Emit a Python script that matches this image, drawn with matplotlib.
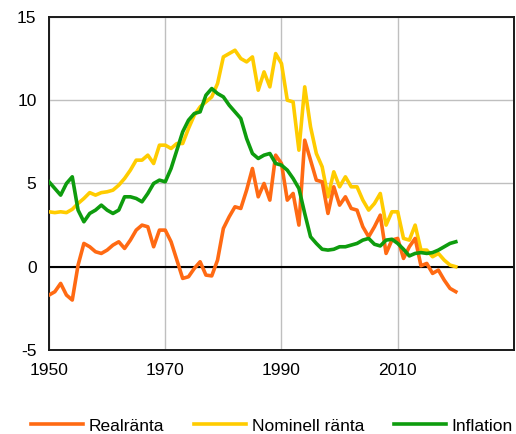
import matplotlib.pyplot as plt

plt.rcParams['font.family'] = ['Liberation Sans', 'DejaVu Sans']
plt.rcParams['axes.unicode_minus'] = False

years = list(range(1950, 2021))

realranta = [
    -1.7, -1.5, -1.0, -1.7, -2.0, 0.1, 1.4, 1.2, 0.9, 0.8,
    1.0, 1.3, 1.5, 1.1, 1.6, 2.2, 2.5, 2.4, 1.2, 2.2,
    2.2, 1.5, 0.4, -0.7, -0.6, -0.1, 0.3, -0.5, -0.55, 0.4,
    2.3, 3.0, 3.6, 3.5, 4.6, 5.9, 4.2, 5.0, 4.0, 6.7,
    6.2, 4.0, 4.4, 2.5, 7.6, 6.4, 5.2, 5.1, 3.2, 4.8,
    3.7, 4.2, 3.5, 3.4, 2.4, 1.8, 2.4, 3.1, 0.8, 1.6,
    1.7, 0.5, 1.2, 1.7, 0.06, 0.2, -0.4, -0.2, -0.8, -1.3,
    -1.5,
]

nominell = [
    3.3, 3.25, 3.3, 3.25, 3.45, 3.8, 4.1, 4.45, 4.3, 4.45,
    4.5, 4.6, 4.9, 5.3, 5.8, 6.4, 6.4, 6.7, 6.2, 7.3,
    7.3, 7.1, 7.4, 7.4, 8.3, 9.1, 9.6, 9.9, 10.2, 11.0,
    12.6, 12.8, 13.0, 12.5, 12.3, 12.6, 10.6, 11.7, 10.8, 12.8,
    12.2, 10.0, 9.9, 7.0, 10.8, 8.4, 6.8, 6.0, 4.2, 5.7,
    4.8, 5.4, 4.8, 4.8, 4.0, 3.4, 3.8, 4.4, 2.5, 3.3,
    3.3, 1.7, 1.6, 2.5, 1.0, 1.0, 0.6, 0.8, 0.4, 0.1,
    0.0,
]

inflation = [
    5.1, 4.7, 4.3, 5.0, 5.4, 3.4, 2.7, 3.2, 3.4, 3.7,
    3.4, 3.2, 3.4, 4.2, 4.2, 4.1, 3.9, 4.4, 5.0, 5.2,
    5.1, 5.9, 7.0, 8.1, 8.8, 9.2, 9.3, 10.3, 10.7, 10.4,
    10.2, 9.7, 9.3, 8.9, 7.7, 6.8, 6.5, 6.7, 6.8, 6.2,
    6.1, 5.8, 5.3, 4.7, 3.2, 1.8, 1.4, 1.05, 1.0, 1.05,
    1.2, 1.2, 1.3, 1.4, 1.6, 1.7, 1.35, 1.25, 1.6, 1.65,
    1.4, 1.05, 0.65, 0.8, 0.85, 0.8, 0.85, 1.0, 1.2, 1.4,
    1.5,
]

fig = plt.figure(figsize=(5.16, 4.34), dpi=100)
ax = fig.add_axes([0.095, 0.1935, 0.901, 0.7675])

ax.plot(years, realranta, color='#FF6A13', lw=2.6, label='Realränta', zorder=4)
ax.plot(years, nominell, color='#FFCC00', lw=2.6, label='Nominell ränta', zorder=3)
ax.plot(years, inflation, color='#0E9C0E', lw=2.6, label='Inflation', zorder=5)
ax.axhline(0, color='black', lw=1.5, zorder=2)

ax.set_xlim(1950, 2030)
ax.set_ylim(-5, 15)
ax.set_xticks([1950, 1970, 1990, 2010, 2030])
ax.set_xticklabels(['1950', '1970', '1990', '2010', ''])
ax.set_yticks([-5, 0, 5, 10, 15])
ax.grid(True, color='#BFBFBF', lw=1.0)
ax.set_axisbelow(True)
ax.tick_params(length=0, labelsize=12.5, pad=9)
for s in ax.spines.values():
    s.set_color('#1a1a1a')
    s.set_linewidth(1.4)

fig.legend(loc='lower center', ncol=3, frameon=False, fontsize=12.5,
           handlelength=3.0, columnspacing=1.75, handletextpad=0.3,
           bbox_to_anchor=(0.527, -0.035))

fig.savefig('out.png', dpi=100)
